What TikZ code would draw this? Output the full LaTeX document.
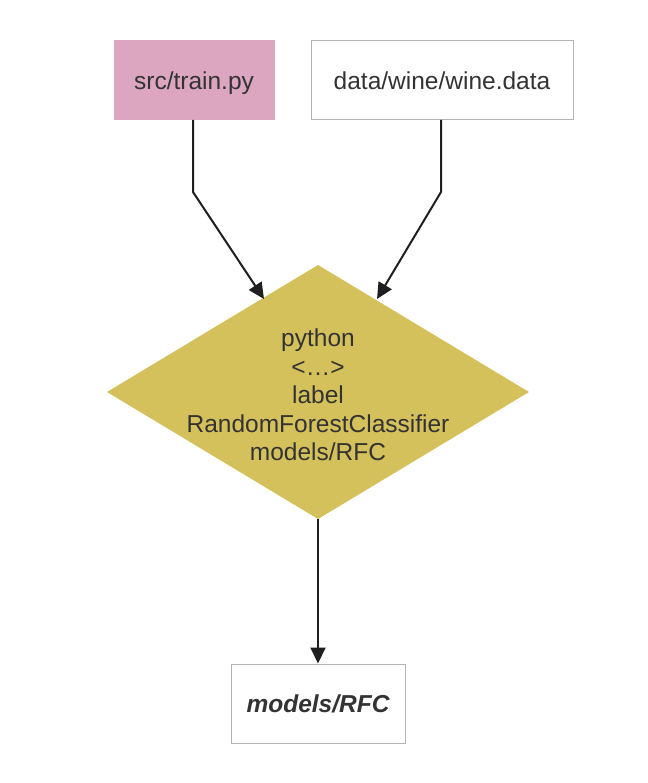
\documentclass[tikz,border=0pt]{standalone}
\usepackage{fontspec}
\setmainfont{Liberation Sans}
\usetikzlibrary{arrows.meta}
\definecolor{pinkfill}{RGB}{220,166,192}
\definecolor{goldfill}{RGB}{212,193,92}
\definecolor{boxline}{RGB}{180,180,180}
\definecolor{txt}{RGB}{51,51,51}
\tikzset{
  filebox/.style={draw=boxline, line width=1pt, inner sep=0pt, text=txt,
    font=\fontsize{24.5}{28.5}\selectfont, minimum height=79pt, text depth=0pt},
  conn/.style={draw=black!88, line width=2pt,
    -{Triangle[length=16pt,width=15pt]}},
}
\begin{document}
\begin{tikzpicture}[x=1pt,y=-1pt]
\useasboundingbox (0,0) rectangle (647,783);
\fill[white] (0,0) rectangle (647,783);
\node[filebox, fill=pinkfill, draw=pinkfill, minimum width=160pt] (train) at (194,80.5) {src/train.py};
\node[filebox, fill=white, minimum width=262pt] (data) at (442,80.5) {data/wine/wine.data};
\fill[goldfill] (318,265) -- (529,392) -- (318,519) -- (107,392) -- cycle;
\node[text=txt, font=\fontsize{24.5}{28.5}\selectfont, align=center] (cmd) at (318,395)
  {python\\<\ldots>\\label\\RandomForestClassifier\\models/RFC};
\coordinate (dtop) at (318,265);
\coordinate (dbot) at (318,519);
\coordinate (dleft) at (264,299);
\coordinate (dright) at (377,299);
\coordinate (b1) at (193,192);
\coordinate (b2) at (441,192);
\node[filebox, fill=white, minimum width=174pt, font=\fontsize{24.5}{28.5}\selectfont\bfseries\itshape] (model) at (318,703.5) {models/RFC};
\draw[conn] (193,120) -- (b1) -- (dleft);
\draw[conn] (441,120) -- (b2) -- (dright);
\draw[conn] (dbot) -- (model.north);
\end{tikzpicture}
\end{document}
